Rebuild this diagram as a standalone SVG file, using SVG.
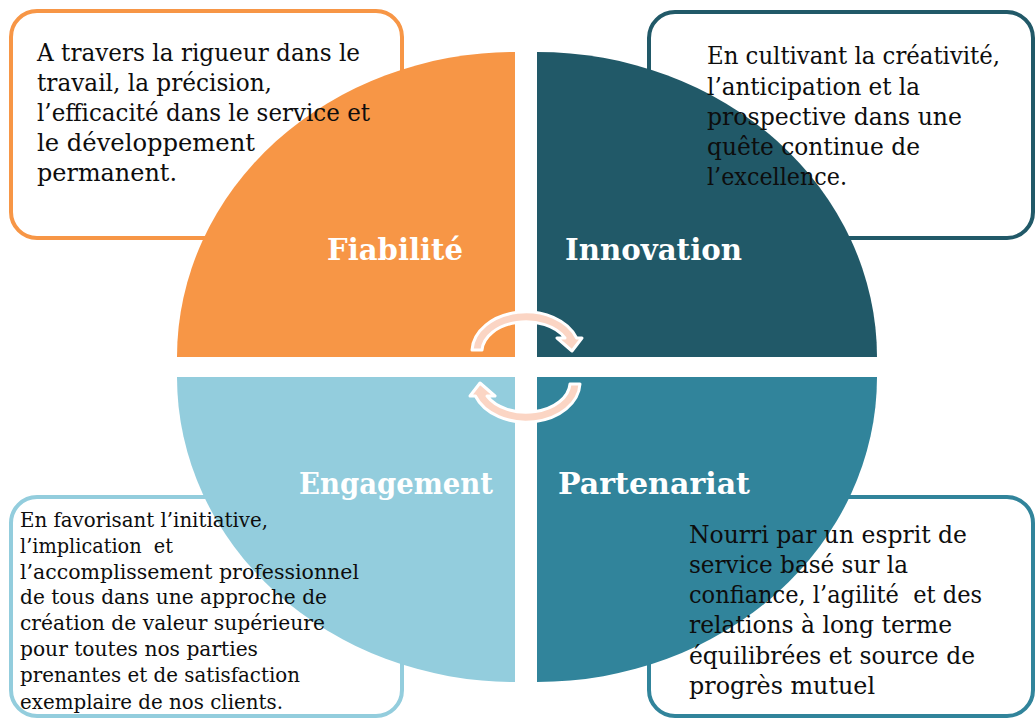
<svg xmlns="http://www.w3.org/2000/svg" width="1036" height="720" viewBox="0 0 1036 720">
  <style>
    .box { fill: #FFFFFF; stroke-width: 4; }
    .body { font-family: "DejaVu Serif", "Liberation Serif", serif; font-size: 24px; fill: #0D0D0D; }
    .small { font-size: 21px; }
    .title { font-family: "DejaVu Serif", "Liberation Serif", serif; font-size: 29px; font-weight: bold; fill: #FFFFFF; }
    .arrow { fill: #FBD5C4; stroke: #FFFFFF; stroke-width: 3; stroke-linejoin: round; }
  </style>
  <rect width="1036" height="720" fill="#FFFFFF"/>

  <g id="node-fiabilite">
    <rect class="box" x="11" y="11" width="391" height="227" rx="26" stroke="#F79646"/>
    <path d="M 515 357 L 177 357 A 338 305 0 0 1 515 52 Z" fill="#F79646"/>
    <text class="body" x="37" y="61" textLength="323" lengthAdjust="spacingAndGlyphs">A travers la rigueur dans le</text>
    <text class="body" x="37" y="91" textLength="235" lengthAdjust="spacingAndGlyphs">travail, la précision,</text>
    <text class="body" x="37" y="121" textLength="333" lengthAdjust="spacingAndGlyphs">l’efficacité dans le service et</text>
    <text class="body" x="37" y="151" textLength="218" lengthAdjust="spacingAndGlyphs">le développement</text>
    <text class="body" x="37" y="181" textLength="140" lengthAdjust="spacingAndGlyphs">permanent.</text>
    <text class="title" x="327" y="260" textLength="136" lengthAdjust="spacingAndGlyphs">Fiabilité</text>
  </g>

  <g id="node-innovation">
    <rect class="box" x="649" y="12" width="384" height="226" rx="26" stroke="#215968"/>
    <path d="M 537 357 L 537 52 A 340 305 0 0 1 877 357 Z" fill="#215968"/>
    <text class="body" x="707" y="64" textLength="293" lengthAdjust="spacingAndGlyphs">En cultivant la créativité,</text>
    <text class="body" x="707" y="95" textLength="213" lengthAdjust="spacingAndGlyphs">l’anticipation et la</text>
    <text class="body" x="707" y="125" textLength="255" lengthAdjust="spacingAndGlyphs">prospective dans une</text>
    <text class="body" x="707" y="155" textLength="213" lengthAdjust="spacingAndGlyphs">quête continue de</text>
    <text class="body" x="707" y="185" textLength="140" lengthAdjust="spacingAndGlyphs">l’excellence.</text>
    <text class="title" x="565" y="260" textLength="177" lengthAdjust="spacingAndGlyphs">Innovation</text>
  </g>

  <g id="node-engagement">
    <rect class="box" x="11" y="497" width="391" height="219" rx="26" stroke="#93CDDD"/>
    <path d="M 515 377 L 515 682 A 338 305 0 0 1 177 377 Z" fill="#93CDDD"/>
    <text class="body small" x="20" y="527" textLength="248" lengthAdjust="spacingAndGlyphs">En favorisant l’initiative,</text>
    <text class="body small" x="20" y="553" textLength="153" lengthAdjust="spacingAndGlyphs" xml:space="preserve">l’implication  et</text>
    <text class="body small" x="20" y="579" textLength="339" lengthAdjust="spacingAndGlyphs">l’accomplissement professionnel</text>
    <text class="body small" x="20" y="604" textLength="307" lengthAdjust="spacingAndGlyphs">de tous dans une approche de</text>
    <text class="body small" x="20" y="630" textLength="305" lengthAdjust="spacingAndGlyphs">création de valeur supérieure</text>
    <text class="body small" x="20" y="656" textLength="238" lengthAdjust="spacingAndGlyphs">pour toutes nos parties</text>
    <text class="body small" x="20" y="682" textLength="280" lengthAdjust="spacingAndGlyphs">prenantes et de satisfaction</text>
    <text class="body small" x="20" y="709" textLength="263" lengthAdjust="spacingAndGlyphs">exemplaire de nos clients.</text>
    <text class="title" x="299" y="494" textLength="194" lengthAdjust="spacingAndGlyphs">Engagement</text>
  </g>

  <g id="node-partenariat">
    <rect class="box" x="649" y="497" width="384" height="219" rx="26" stroke="#31849B"/>
    <path d="M 537 377 L 877 377 A 340 305 0 0 1 537 682 Z" fill="#31849B"/>
    <text class="body" x="689" y="543" textLength="278" lengthAdjust="spacingAndGlyphs">Nourri par un esprit de</text>
    <text class="body" x="689" y="573" textLength="219" lengthAdjust="spacingAndGlyphs">service basé sur la</text>
    <text class="body" x="689" y="603" textLength="293" lengthAdjust="spacingAndGlyphs" xml:space="preserve">confiance, l’agilité  et des</text>
    <text class="body" x="689" y="633" textLength="263" lengthAdjust="spacingAndGlyphs">relations à long terme</text>
    <text class="body" x="689" y="664" textLength="286" lengthAdjust="spacingAndGlyphs">équilibrées et source de</text>
    <text class="body" x="689" y="694" textLength="186" lengthAdjust="spacingAndGlyphs">progrès mutuel</text>
    <text class="title" x="558" y="494" textLength="192" lengthAdjust="spacingAndGlyphs">Partenariat</text>
  </g>

  <g id="connectors">
    <path id="arrow-top" class="arrow" d="M 472 350 A 54 40 0 0 1 576.6 338 L 582 338 L 572 351 L 557 338 L 565 338 A 44 30 0 0 0 482 350 Z"/>
    <path id="arrow-bottom" class="arrow" transform="rotate(180 526 367)" d="M 472 350 A 54 40 0 0 1 576.6 338 L 582 338 L 572 351 L 557 338 L 565 338 A 44 30 0 0 0 482 350 Z"/>
  </g>
</svg>
